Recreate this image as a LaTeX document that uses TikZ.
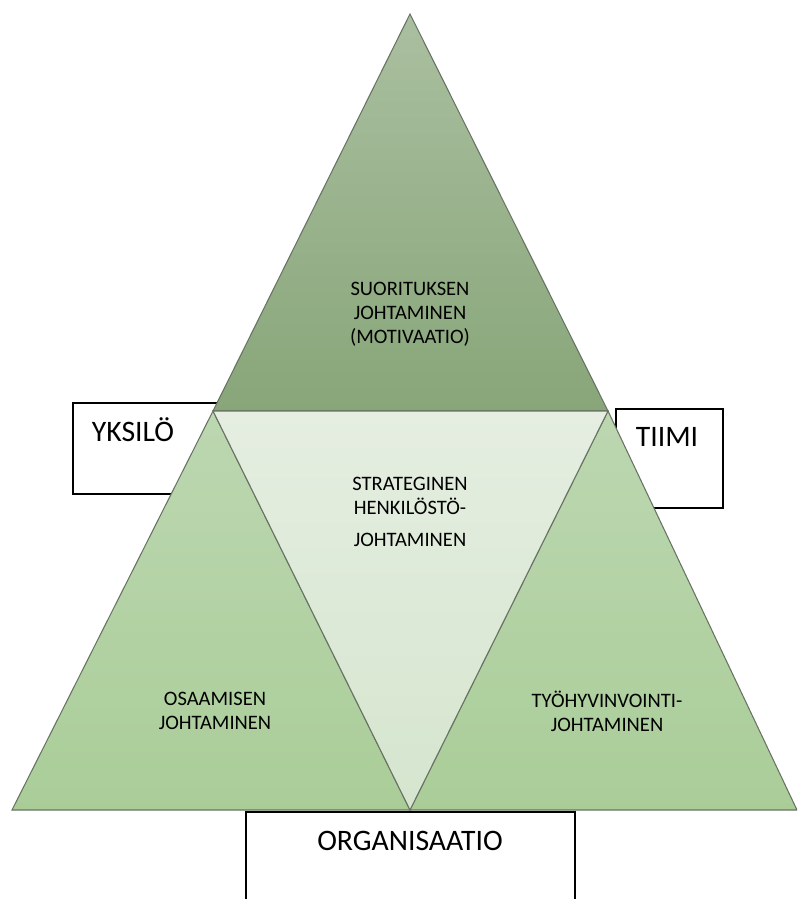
\documentclass[tikz,border=0pt]{standalone}
\usepackage{fontspec}
\setmainfont{Carlito}
\usepackage{xcolor}
\usepackage{tikz}

\definecolor{topA}{RGB}{170,191,160}
\definecolor{topB}{RGB}{136,166,121}
\definecolor{sideA}{RGB}{188,215,177}
\definecolor{sideB}{RGB}{170,205,152}
\definecolor{midA}{RGB}{229,238,225}
\definecolor{midB}{RGB}{213,229,206}
\definecolor{edgegray}{RGB}{105,115,100}

\begin{document}
\begin{tikzpicture}[x=0.75pt,y=-0.75pt,
    tri/.style = {draw = edgegray, line width = 0.8pt, line join = miter},
    label/.style = {align = center, font = \fontsize{15.4}{18}\selectfont},
    corner/.style = {font = \fontsize{22.3}{26}\selectfont, anchor = base}]

    \useasboundingbox (0,0) rectangle (797,899);
    \clip (0,0) rectangle (797,899);

    %corner boxes
    \node[rectangle,
          draw,
          line width = 1pt,
          minimum width = 125.25pt,
          minimum height = 68.25pt
          ] (yksilo) at (156.5,448.5) {};

    \node[rectangle,
          draw,
          line width = 1pt,
          minimum width = 80.25pt,
          minimum height = 74.25pt
          ] (tiimi) at (669.5,458.5) {};

    \node[rectangle,
          draw,
          line width = 1pt,
          minimum width = 246.75pt,
          minimum height = 81pt
          ] (org) at (410.5,866) {};

    %triangle corners
    \coordinate (apex) at (410,14);
    \coordinate (tl) at (213,411);
    \coordinate (tr) at (608,411);
    \coordinate (bl) at (12,810);
    \coordinate (bm) at (410,810);
    \coordinate (br) at (797,810);

    \path[tri, top color = topA, bottom color = topB] (apex) -- (tr) -- (tl) -- cycle;
    \path[tri, top color = sideA, bottom color = sideB] (tl) -- (bm) -- (bl) -- cycle;
    \path[tri, top color = sideA, bottom color = sideB] (tr) -- (br) -- (bm) -- cycle;
    \path[tri, top color = midA, bottom color = midB] (tl) -- (tr) -- (bm) -- cycle;

    \node[label] (suoritus) at (410,314) {SUORITUKSEN\\JOHTAMINEN\\(MOTIVAATIO)};
    \node[label] (strateg) at (410,512) {STRATEGINEN\\HENKILÖSTÖ-\\[6pt]JOHTAMINEN};
    \node[label] (osaaminen) at (215,711) {OSAAMISEN\\JOHTAMINEN};
    \node[label] (hyvinvointi) at (607,711) {TYÖHYVINVOINTI-\\JOHTAMINEN};

    \node[corner] at (133,441.7) {YKSILÖ};
    \node[corner] at (667,446.7) {TIIMI};
    \node[corner] at (410,850.7) {ORGANISAATIO};

\end{tikzpicture}
\end{document}
